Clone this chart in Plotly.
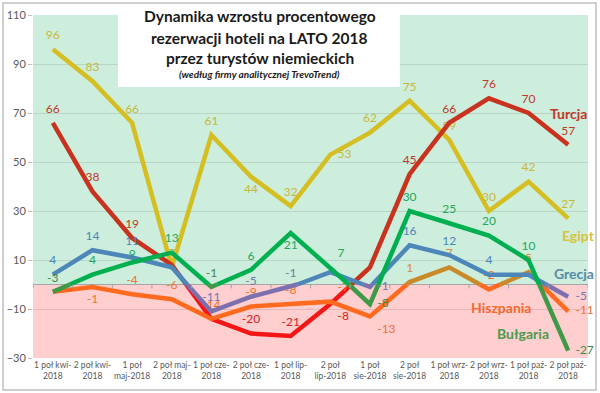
import plotly.graph_objects as go

categories = ["1 poł kwi-<br>2018", "2 poł kwi-<br>2018", "1 poł<br>maj-2018", "2 poł maj-<br>2018",
              "1 poł cze-<br>2018", "2 poł cze-<br>2018", "1 poł lip-<br>2018", "2 poł<br>lip-2018",
              "1 poł<br>sie-2018", "2 poł<br>sie-2018", "1 poł wrz-<br>2018", "2 poł wrz-<br>2018",
              "1 poł paź-<br>2018", "2 poł paź-<br>2018"]

egipt = [96, 83, 66, 7, 61, 44, 32, 53, 62, 75, 59, 30, 42, 27]
turcja = [66, 38, 19, 8, -14, -20, -21, -8, 7, 45, 66, 76, 70, 57]
hiszpania = [-3, -1, -4, -6, -14, -9, -8, -7, -13, 1, 7, -2, 5, -11]
grecja = [4, 14, 11, 7, -11, -5, -1, 5, -1, 16, 12, 4, 4, -5]
bulgaria = [-3, 4, 9, 13, -1, 6, 21, 7, -8, 30, 25, 20, 10, -27]

series_names = ["Egipt", "Turcja", "Hiszpania", "Grecja", "Bułgaria"]

y_ticks = [-30, -10, 10, 30, 50, 70, 90, 110]

FONT = "Lato, 'Open Sans', sans-serif"

# style per series: (line pos color, line neg color, label pos color, label neg color, name color)
styles = {
    "Egipt": ("#D5BE22", "#D5BE22", "#C9B73A", "#C9B73A", "#D6C23E"),
    "Turcja": ("#C8321E", "#F21616", "#C0392B", "#D8201E", "#C0392B"),
    "Hiszpania": ("#C98A2A", "#FF6A1E", "#D88A30", "#F0702E", "#F26A30"),
    "Grecja": ("#4D86B8", "#7D70AE", "#4A86B8", "#6E78B0", "#5689AA"),
    "Bułgaria": ("#00B050", "#3E9A48", "#22A85C", "#3E8A40", "#4C9A4C"),
}

positions = {
    "Egipt": ["top center"] * 14,
    "Turcja": ["top center"] * 14,
    "Hiszpania": ["top center"] * 14,
    "Grecja": ["top center"] * 14,
    "Bułgaria": ["top center"] * 14,
}
positions["Egipt"][5] = "bottom center"
positions["Egipt"][7] = "middle right"
positions["Turcja"][7] = "bottom right"
positions["Hiszpania"][1] = "bottom center"
positions["Hiszpania"][7] = "top right"
positions["Hiszpania"][8] = "bottom right"
positions["Hiszpania"][13] = "middle right"
positions["Grecja"][8] = "middle right"
positions["Grecja"][13] = "middle right"
positions["Bułgaria"][6] = "bottom center"
positions["Bułgaria"][7] = "top right"
positions["Bułgaria"][8] = "middle right"
positions["Bułgaria"][13] = "middle right"

# label offset (invisible marker size) per point
offsets = {name: [10] * 14 for name in series_names}
offsets["Bułgaria"][2] = 1
offsets["Grecja"][2] = 14
offsets["Grecja"][5] = 13

hidden = {
    "Egipt": [],
    "Turcja": [3, 4, 8],
    "Hiszpania": [0],
    "Grecja": [3, 7, 12],
    "Bułgaria": [],
}

data = {"Egipt": egipt, "Turcja": turcja, "Hiszpania": hiszpania, "Grecja": grecja, "Bułgaria": bulgaria}
draw_order = ["Egipt", "Turcja", "Hiszpania", "Grecja", "Bułgaria"]


def split_sign(vals):
    pos = ([], [])
    neg = ([], [])

    def add(part, x0, y0, x1, y1):
        xs, ys = part
        if xs and xs[-1] == x0 and ys[-1] == y0:
            xs.append(x1)
            ys.append(y1)
        else:
            if xs:
                xs.append(None)
                ys.append(None)
            xs.extend([x0, x1])
            ys.extend([y0, y1])

    for i in range(len(vals) - 1):
        a, b = vals[i], vals[i + 1]
        if a >= 0 and b >= 0:
            add(pos, i, a, i + 1, b)
        elif a <= 0 and b <= 0:
            add(neg, i, a, i + 1, b)
        else:
            xc = i + a / (a - b)
            if a > 0:
                add(pos, i, a, xc, 0)
                add(neg, xc, 0, i + 1, b)
            else:
                add(neg, i, a, xc, 0)
                add(pos, xc, 0, i + 1, b)
    return pos, neg


fig = go.Figure()
xs_idx = list(range(len(categories)))

for name in draw_order:
    vals = data[name]
    lp, ln, tp, tn, _ = styles[name]
    pos, neg = split_sign(vals)
    for part, col in ((pos, lp), (neg, ln)):
        if part[0]:
            fig.add_trace(go.Scatter(x=part[0], y=part[1], mode="lines",
                                     line=dict(color=col, width=4.5),
                                     hoverinfo="skip", showlegend=False))
    texts = ["" if i in hidden[name] else str(v) for i, v in enumerate(vals)]
    tcolors = [tp if v >= 0 else tn for v in vals]
    fig.add_trace(go.Scatter(x=xs_idx, y=vals, mode="markers+text", text=texts,
                             marker=dict(size=offsets[name], color="rgba(0,0,0,0)",
                                         opacity=0, line=dict(width=0, color="rgba(0,0,0,0)")),
                             textposition=positions[name], cliponaxis=False,
                             textfont=dict(family=FONT, size=12, color=tcolors),
                             hoverinfo="skip", showlegend=False, name=name))

# series name labels
name_pos = {
    "Turcja": (13.0, 70),
    "Egipt": (13.25, 20),
    "Grecja": (13.15, 4.5),
    "Hiszpania": (11.3, -9.5),
    "Bułgaria": (11.85, -19.8),
}
annotations = []
for name in series_names:
    x, y = name_pos[name]
    annotations.append(dict(x=x, y=y, xref="x", yref="y", text="<b>" + name + "</b>",
                            showarrow=False, font=dict(family=FONT, size=14, color=styles[name][4])))

title_lines = [
    ("<b>Dynamika wzrostu procentowego</b>", 0.996, 15.5),
    ("<b>rezerwacji hoteli na LATO 2018</b>", 0.934, 15.5),
    ("<b>przez turystów niemieckich</b>", 0.874, 15.5),
    ("<b><i>(według firmy analitycznej TrevoTrend)</i></b>", 0.829, 10),
]
for txt, yy, sz in title_lines:
    annotations.append(dict(x=0.409, y=yy, xref="paper", yref="paper", text=txt, showarrow=False,
                            xanchor="center", yanchor="middle",
                            font=dict(family=FONT, size=sz, color="#1a1a1a")))

shapes = [
    dict(type="rect", xref="paper", yref="y", x0=0, x1=1, y0=0, y1=110,
         fillcolor="#CDEEDC", line=dict(width=0), layer="below"),
    dict(type="rect", xref="paper", yref="y", x0=0, x1=1, y0=-30, y1=0,
         fillcolor="#FFCFCF", line=dict(width=0), layer="below"),
    dict(type="rect", xref="paper", yref="paper", x0=0.153, x1=0.661, y0=0.79, y1=1.03,
         fillcolor="white", line=dict(width=0), layer="above"),
    dict(type="rect", xref="paper", yref="paper", x0=-0.054, x1=1.0144, y0=-0.093, y1=1.035,
         fillcolor="rgba(0,0,0,0)", line=dict(width=1.5, color="#BFBFBF"), layer="below"),
]
# category boundary tick marks on the zero axis
for k in range(len(categories) + 1):
    shapes.append(dict(type="line", xref="x", yref="y", x0=k - 0.5, x1=k - 0.5, y0=0, y1=-1.6,
                       line=dict(color="#A0A0A0", width=1), layer="above"))

fig.update_layout(
    width=600, height=393,
    margin=dict(l=33, r=12, t=15, b=35, autoexpand=False),
    paper_bgcolor="white", plot_bgcolor="white",
    font=dict(family=FONT, color="#595959"),
    shapes=shapes, annotations=annotations, showlegend=False,
)
fig.update_xaxes(range=[-0.5, 13.5], tickmode="array", tickvals=xs_idx, ticktext=categories,
                 showgrid=False, zeroline=False, showline=False, ticks="", automargin=False,
                 tickfont=dict(family=FONT, size=8.5, color="#595959"), tickangle=0)
fig.update_yaxes(range=[-30, 110], tickmode="array", tickvals=y_ticks, automargin=False,
                 showgrid=True, gridcolor="rgba(0,0,0,0.10)", gridwidth=1,
                 zeroline=True, zerolinecolor="#A6A6A6", zerolinewidth=1,
                 ticks="outside", ticklen=4, tickcolor="#BFBFBF",
                 tickfont=dict(family=FONT, size=11, color="#595959"), showline=False)

fig.write_html("out.html", config={"displayModeBar": False},
               post_script="document.body.style.margin='0';document.body.style.overflow='hidden';")
